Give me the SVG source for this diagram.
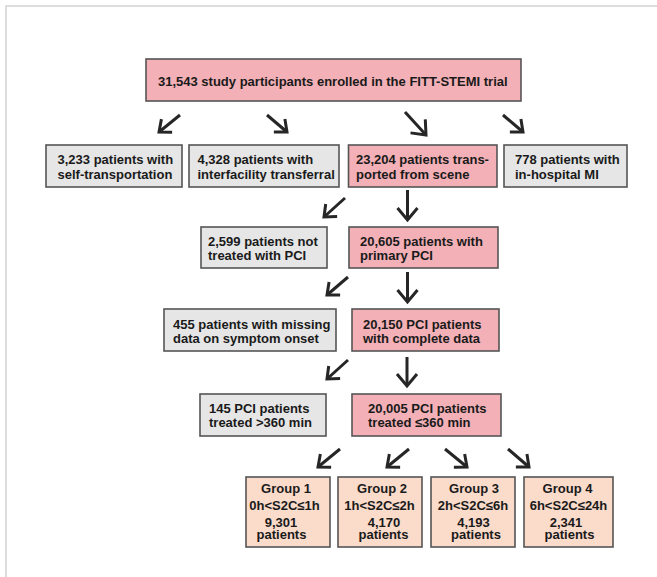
<svg xmlns="http://www.w3.org/2000/svg" width="657" height="577" viewBox="0 0 657 577">
<style>
.box{stroke:#555;stroke-width:1.6}
.pink{fill:#f3b0b6}
.gray{fill:#e6e6e6}
.peach{fill:#fbdbca}
text{font-family:"Liberation Sans",Arial,sans-serif;font-weight:bold;font-size:13px;fill:#1a1a1a}
.c{text-anchor:middle}
.arr{stroke:#262626;stroke-width:3;fill:none}
</style>
<defs>
<marker id="big" markerUnits="userSpaceOnUse" orient="auto" refX="0" refY="0" markerWidth="30" markerHeight="30" overflow="visible">
<path d="M-12,-10 L0,0 L-12,10" fill="none" stroke="#262626" stroke-width="3"/>
</marker>
<marker id="small" markerUnits="userSpaceOnUse" orient="auto" refX="0" refY="0" markerWidth="30" markerHeight="30" overflow="visible">
<path d="M-10,-8.5 L0,0 L-10,8.5" fill="none" stroke="#262626" stroke-width="3"/>
</marker>
</defs>
<rect width="657" height="577" fill="#fff"/>
<path d="M6,577 L6,6 L657,6" fill="none" stroke="#d2d2d2" stroke-width="1.5"/>

<g id="n-enrolled"><rect class="box pink" x="146" y="59" width="375" height="42"/><text x="158" y="86">31,543 study participants enrolled in the FITT-STEMI trial</text></g>

<g id="n-self"><rect class="box gray" x="46" y="145" width="136" height="42"/><text x="57.5" y="164">3,233 patients with</text><text x="57.5" y="178.5">self-transportation</text></g>
<g id="n-interfacility"><rect class="box gray" x="189" y="145" width="150" height="42"/><text x="197.5" y="164">4,328 patients with</text><text x="197.5" y="178.5">interfacility transferral</text></g>
<g id="n-scene"><rect class="box pink" x="348.5" y="145" width="148.5" height="42"/><text x="356" y="164">23,204 patients trans-</text><text x="356" y="178.5">ported from scene</text></g>
<g id="n-inhospital"><rect class="box gray" x="504" y="145" width="123" height="42"/><text x="515" y="164">778 patients with</text><text x="515" y="178.5">in-hospital MI</text></g>

<g id="n-notpci"><rect class="box gray" x="201" y="227" width="126" height="41"/><text x="208" y="245.5">2,599 patients not</text><text x="208" y="260">treated with PCI</text></g>
<g id="n-primarypci"><rect class="box pink" x="349" y="227" width="149" height="41"/><text x="360" y="245.5">20,605 patients with</text><text x="360" y="260">primary PCI</text></g>

<g id="n-missing"><rect class="box gray" x="164" y="309" width="172" height="42"/><text x="173" y="329">455 patients with missing</text><text x="173" y="343">data on symptom onset</text></g>
<g id="n-complete"><rect class="box pink" x="352" y="309" width="147" height="42"/><text x="363" y="329">20,150 PCI patients</text><text x="363" y="343">with complete data</text></g>

<g id="n-over360"><rect class="box gray" x="200" y="394" width="126" height="42"/><text x="209" y="413">145 PCI patients</text><text x="209" y="427">treated &gt;360 min</text></g>
<g id="n-under360"><rect class="box pink" x="352" y="394" width="149" height="42"/><text x="368" y="413">20,005 PCI patients</text><text x="368" y="427">treated ≤360 min</text></g>

<g id="n-group1"><rect class="box peach" x="246" y="477" width="84" height="70"/><text class="c" x="286" y="493">Group 1</text><text class="c" x="284.5" y="510">0h&lt;S2C≤1h</text><text class="c" x="281" y="527">9,301</text><text class="c" x="281.5" y="539">patients</text></g>
<g id="n-group2"><rect class="box peach" x="338" y="477" width="84" height="70"/><text class="c" x="382" y="493">Group 2</text><text class="c" x="379.5" y="510">1h&lt;S2C≤2h</text><text class="c" x="384" y="527">4,170</text><text class="c" x="383.5" y="539">patients</text></g>
<g id="n-group3"><rect class="box peach" x="431" y="477" width="84" height="70"/><text class="c" x="474" y="493">Group 3</text><text class="c" x="473" y="510">2h&lt;S2C≤6h</text><text class="c" x="473.5" y="527">4,193</text><text class="c" x="476" y="539">patients</text></g>
<g id="n-group4"><rect class="box peach" x="524" y="477" width="89" height="70"/><text class="c" x="567.5" y="493">Group 4</text><text class="c" x="568.5" y="510">6h&lt;S2C≤24h</text><text class="c" x="566" y="527">2,341</text><text class="c" x="569.5" y="539">patients</text></g>

<g id="connectors">
<path class="arr" d="M180,115 L159,132" marker-end="url(#small)"/>
<path class="arr" d="M267,115 L287,132" marker-end="url(#small)"/>
<path class="arr" d="M405,112 L426,135" marker-end="url(#big)"/>
<path class="arr" d="M503,115 L523,132" marker-end="url(#small)"/>
<path class="arr" d="M345,198 L324,217" marker-end="url(#small)"/>
<path class="arr" d="M407.5,190 L407.5,220" marker-end="url(#big)"/>
<path class="arr" d="M348,277 L327,295" marker-end="url(#small)"/>
<path class="arr" d="M407.5,272 L407.5,302" marker-end="url(#big)"/>
<path class="arr" d="M348,360 L327,379" marker-end="url(#small)"/>
<path class="arr" d="M407,357 L407,386" marker-end="url(#big)"/>
<path class="arr" d="M340,449 L318,467" marker-end="url(#small)"/>
<path class="arr" d="M409,449 L387,467" marker-end="url(#small)"/>
<path class="arr" d="M445,449 L467,467" marker-end="url(#small)"/>
<path class="arr" d="M508,449 L529,467" marker-end="url(#small)"/>
</g>
</svg>
